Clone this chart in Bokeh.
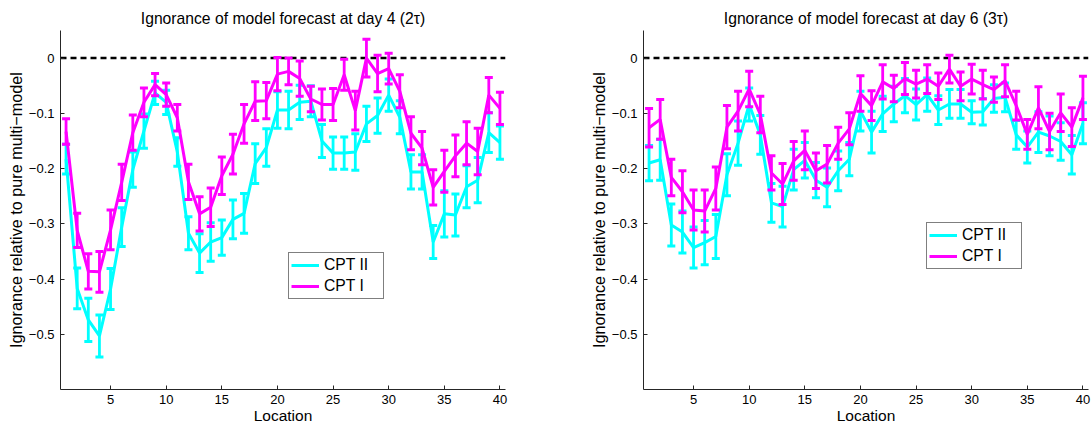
from bokeh.plotting import figure
from bokeh.layouts import row
from bokeh.models import ColumnDataSource, Legend, LegendItem, FixedTicker, Span
from bokeh.embed import file_html
from bokeh.resources import INLINE

# ---------------- data ----------------
locations = list(range(1, 41))
x_ticks = [5, 10, 15, 20, 25, 30, 35, 40]
y_ticks = [0, -0.1, -0.2, -0.3, -0.4, -0.5]

titles = ["Ignorance of model forecast at day 4 (2\u03c4)",
          "Ignorance of model forecast at day 6 (3\u03c4)"]
series_names = ["CPT II", "CPT I"]

# day 4
d4_cpt2 = [-0.183, -0.417, -0.474, -0.503, -0.418, -0.306, -0.202, -0.132, -0.063, -0.080,
           -0.170, -0.317, -0.353, -0.333, -0.325, -0.292, -0.281, -0.191, -0.162, -0.094,
           -0.094, -0.080, -0.078, -0.150, -0.172, -0.172, -0.170, -0.119, -0.104, -0.067,
           -0.107, -0.206, -0.206, -0.333, -0.282, -0.284, -0.233, -0.221, -0.135, -0.153]
d4_cpt2_err = [0.027, 0.037, 0.039, 0.038, 0.037, 0.035, 0.032, 0.031, 0.021, 0.022,
               0.026, 0.030, 0.035, 0.035, 0.032, 0.035, 0.036, 0.036, 0.034, 0.033,
               0.034, 0.031, 0.028, 0.030, 0.029, 0.029, 0.033, 0.032, 0.032, 0.029,
               0.030, 0.031, 0.031, 0.030, 0.042, 0.038, 0.038, 0.041, 0.036, 0.030]
d4_cpt1 = [-0.133, -0.312, -0.386, -0.387, -0.311, -0.225, -0.135, -0.080, -0.048, -0.066,
           -0.108, -0.224, -0.282, -0.270, -0.213, -0.174, -0.119, -0.078, -0.077, -0.029,
           -0.024, -0.037, -0.074, -0.084, -0.084, -0.030, -0.095, 0.000, -0.028, -0.019,
           -0.060, -0.136, -0.163, -0.234, -0.205, -0.177, -0.154, -0.169, -0.067, -0.091]
d4_cpt1_err = [0.023, 0.031, 0.032, 0.037, 0.036, 0.033, 0.032, 0.026, 0.020, 0.021,
               0.024, 0.032, 0.031, 0.035, 0.034, 0.036, 0.035, 0.035, 0.033, 0.030,
               0.024, 0.032, 0.023, 0.028, 0.029, 0.028, 0.035, 0.034, 0.033, 0.028,
               0.030, 0.030, 0.030, 0.032, 0.038, 0.038, 0.039, 0.042, 0.032, 0.029]

# day 6
d6_cpt2 = [-0.190, -0.184, -0.302, -0.315, -0.343, -0.334, -0.323, -0.211, -0.154, -0.084,
           -0.139, -0.262, -0.269, -0.202, -0.185, -0.221, -0.234, -0.204, -0.183, -0.096,
           -0.134, -0.101, -0.083, -0.068, -0.084, -0.066, -0.094, -0.083, -0.083, -0.098,
           -0.097, -0.073, -0.071, -0.139, -0.161, -0.134, -0.141, -0.151, -0.175, -0.118]
d6_cpt2_err = [0.032, 0.037, 0.038, 0.038, 0.037, 0.040, 0.040, 0.038, 0.040, 0.030,
               0.035, 0.035, 0.037, 0.037, 0.032, 0.032, 0.035, 0.036, 0.030, 0.036,
               0.038, 0.032, 0.032, 0.031, 0.028, 0.030, 0.026, 0.026, 0.026, 0.021,
               0.024, 0.025, 0.026, 0.026, 0.029, 0.037, 0.036, 0.034, 0.035, 0.037]
d6_cpt1 = [-0.126, -0.111, -0.216, -0.242, -0.275, -0.277, -0.236, -0.125, -0.096, -0.056,
           -0.102, -0.208, -0.228, -0.186, -0.167, -0.204, -0.192, -0.154, -0.128, -0.064,
           -0.086, -0.043, -0.055, -0.037, -0.047, -0.038, -0.051, -0.020, -0.051, -0.038,
           -0.048, -0.057, -0.041, -0.086, -0.138, -0.090, -0.133, -0.099, -0.125, -0.072]
d6_cpt1_err = [0.035, 0.036, 0.033, 0.038, 0.036, 0.038, 0.039, 0.039, 0.036, 0.032,
               0.033, 0.031, 0.037, 0.035, 0.035, 0.032, 0.034, 0.029, 0.029, 0.032,
               0.027, 0.031, 0.024, 0.029, 0.025, 0.026, 0.024, 0.025, 0.026, 0.027,
               0.026, 0.023, 0.029, 0.026, 0.027, 0.038, 0.033, 0.034, 0.035, 0.039]

CYAN = "#00FFFF"
MAGENTA = "#FF00FF"
FONT = "Liberation Sans"
AXIS_COL = "#262626"


def add_series(p, means, errs, color):
    lo = [m - e for m, e in zip(means, errs)]
    hi = [m + e for m, e in zip(means, errs)]
    src = ColumnDataSource(dict(x=locations, m=means, lo=lo, hi=hi))
    p.segment(x0="x", y0="lo", x1="x", y1="hi", source=src, line_color=color, line_width=2.8)
    p.scatter(x="x", y="lo", source=src, marker="dash", size=8, line_color=color, line_width=3)
    p.scatter(x="x", y="hi", source=src, marker="dash", size=8, line_color=color, line_width=3)
    return p.line(x="x", y="m", source=src, line_color=color, line_width=3)


def panel(title, c2, c2e, c1, c1e, width, bl, br, leg_loc):
    p = figure(width=width, height=427, x_range=(0.5, 40.5), y_range=(-0.6, 0.05),
               output_backend="svg", toolbar_location=None,
               min_border_left=bl, min_border_right=br, min_border_top=30, min_border_bottom=38)
    p.title.text = title
    p.title.align = "center"
    p.title.vertical_align = "top"
    p.title.text_font = FONT
    p.title.text_font_style = "normal"
    p.title.text_font_size = "15.7px"
    p.title.text_color = "black"
    p.title.standoff = 3
    p.xgrid.visible = False
    p.ygrid.visible = False
    p.outline_line_color = None
    p.background_fill_color = "white"
    p.border_fill_color = "white"

    p.add_layout(Span(location=0, dimension="width", line_color="black",
                      line_dash="6 4", line_width=2.5, level="underlay"))

    r2 = add_series(p, c2, c2e, CYAN)
    r1 = add_series(p, c1, c1e, MAGENTA)

    for ax in (p.xaxis[0], p.yaxis[0]):
        ax.axis_line_color = AXIS_COL
        ax.major_tick_line_color = AXIS_COL
        ax.major_tick_in = 4
        ax.major_tick_out = 0
        ax.minor_tick_line_color = None
        ax.major_label_text_font = FONT
        ax.major_label_text_font_size = "13px"
        ax.major_label_text_color = "black"
        ax.axis_label_text_font = FONT
        ax.axis_label_text_font_style = "normal"
        ax.axis_label_text_color = "black"

    p.xaxis.axis_label_text_font_size = "15.5px"
    p.yaxis.axis_label_text_font_size = "16.2px"
    p.xaxis.ticker = FixedTicker(ticks=x_ticks)
    p.yaxis.ticker = FixedTicker(ticks=y_ticks)
    p.yaxis.major_label_overrides = {t: ("0" if t == 0 else "\u2212%.1f" % (-t)) for t in y_ticks}
    p.xaxis.axis_label = "Location"
    p.yaxis.axis_label = "Ignorance relative to pure multi\u2212model"
    p.xaxis.major_label_standoff = 5
    p.xaxis.axis_label_standoff = 0
    p.yaxis.major_label_standoff = 6
    p.yaxis.axis_label_standoff = 1

    legend = Legend(items=[LegendItem(label=series_names[0], renderers=[r2]),
                           LegendItem(label=series_names[1], renderers=[r1])],
                    location=leg_loc)
    legend.border_line_color = "black"
    legend.border_line_width = 1
    legend.background_fill_color = "white"
    legend.background_fill_alpha = 1
    legend.label_text_font = FONT
    legend.label_text_font_size = "15.7px"
    legend.label_text_color = "black"
    legend.glyph_width = 28
    legend.glyph_height = 20
    legend.label_height = 20
    legend.label_width = 57
    legend.label_standoff = 5
    legend.padding = 2
    legend.spacing = 1
    legend.margin = 0
    p.add_layout(legend, "center")
    return p


p1 = panel(titles[0], d4_cpt2, d4_cpt2_err, d4_cpt1, d4_cpt1_err, 560, 60, 55, (228, 90))
p2 = panel(titles[1], d6_cpt2, d6_cpt2_err, d6_cpt1, d6_cpt1_err, 531, 83, 3, (283, 120))

layout = row(p1, p2)
open("out.html", "w").write(file_html(layout, INLINE))
